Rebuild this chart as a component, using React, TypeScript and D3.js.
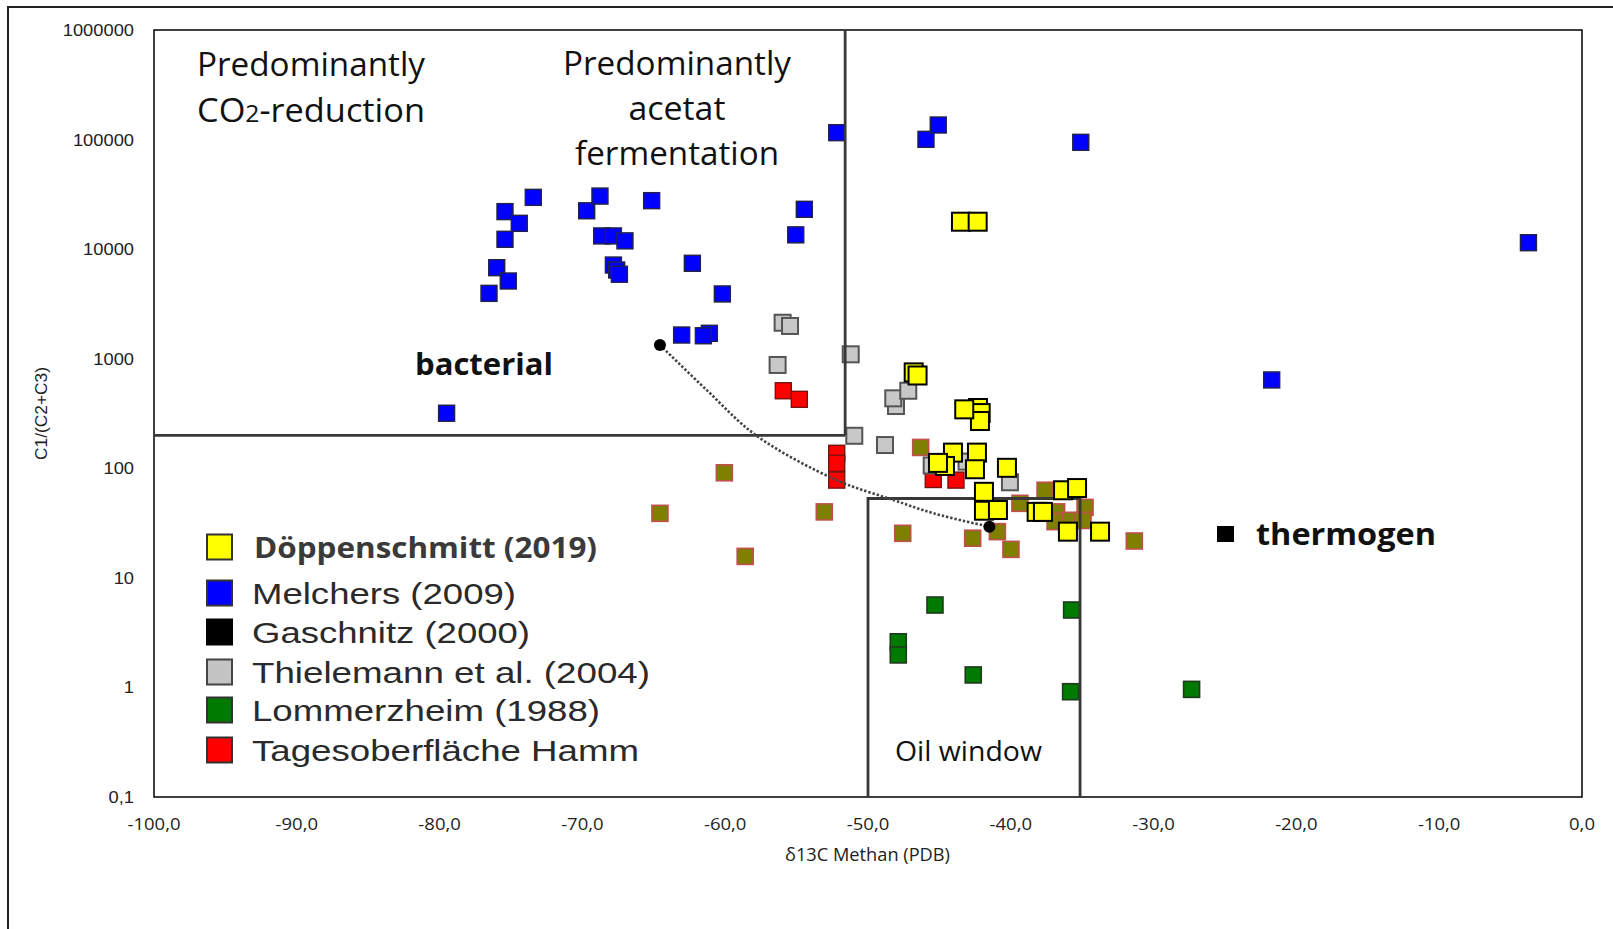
import React from "react";
import { scaleLinear, scaleLog, line, curveCatmullRom } from "d3";

// δ13C methane (x) vs C1/(C2+C3) (y)
const xTicks = [-100, -90, -80, -70, -60, -50, -40, -30, -20, -10, 0];
const xTickLabels = ["-100,0", "-90,0", "-80,0", "-70,0", "-60,0", "-50,0", "-40,0", "-30,0", "-20,0", "-10,0", "0,0"];
const yTicks = [0.1, 1, 10, 100, 1000, 10000, 100000, 1000000];
const yTickLabels = ["0,1", "1", "10", "100", "1000", "10000", "100000", "1000000"];

const doeppenschmitt = [
  [-43.49, 17800], [-42.32, 17800], [-46.8, 750], [-46.53, 703], [-42.3, 355], [-42.11, 319],
  [-42.16, 270], [-43.26, 345], [-44.05, 139], [-42.37, 139], [-44.61, 105], [-45.1, 112],
  [-42.51, 98], [-40.27, 101], [-41.88, 61], [-41.88, 41], [-40.9, 41.6], [-38.19, 40],
  [-37.75, 40], [-36.34, 63], [-35.36, 66], [-36.0, 26.4], [-33.75, 26.4],
];

const melchers = [
  [-76.54, 3950], [-76.0, 6770], [-75.19, 5120], [-75.42, 12300], [-75.42, 22000], [-74.42, 17200],
  [-73.44, 29700], [-69.7, 22400], [-68.77, 30500], [-68.65, 13200], [-67.83, 13200], [-67.02, 11900],
  [-67.83, 7160], [-67.6, 6450], [-67.41, 5900], [-65.15, 27700], [-62.3, 7430], [-60.2, 3900],
  [-63.05, 1645], [-61.11, 1706], [-61.53, 1620], [-54.46, 23100], [-55.06, 13500], [-52.19, 115600],
  [-45.94, 100500], [-45.08, 135800], [-35.1, 94400], [-3.75, 11450], [-21.73, 640], [-79.51, 318],
];

const gaschnitz = [[-64.57, 1334], [-41.5, 29.3]];
const gaschnitzTrend = [
  [-64.57, 1334], [-61.3, 518], [-57.8, 198], [-52.2, 78], [-48.23, 51.4], [-45.4, 38.8], [-41.5, 29.3],
];

const thielemann = [
  [-55.98, 2130], [-55.46, 1990], [-56.33, 877], [-51.21, 1097], [-50.96, 198], [-48.81, 163],
  [-48.04, 370], [-48.23, 435], [-47.18, 510], [-45.54, 106], [-43.1, 115], [-40.06, 74.5],
];

const lommerzheim = [
  [-45.31, 5.65], [-47.88, 2.61], [-47.88, 1.98], [-42.63, 1.3], [-35.74, 5.09], [-35.81, 0.914], [-27.34, 0.96],
];

const tagesoberflaeche = [
  [-55.93, 510], [-54.81, 426], [-52.19, 137], [-52.19, 111], [-52.19, 78], [-45.43, 79], [-43.84, 78],
];

// olive points without legend entry
const unlabeled = [
  [-64.57, 38.8], [-60.06, 91], [-58.6, 15.7], [-53.06, 40], [-46.31, 155], [-47.57, 25.5],
  [-42.67, 23], [-40.94, 26.4], [-39.99, 18.2], [-39.36, 47.9], [-37.6, 63], [-36.79, 40],
  [-36.9, 32.6], [-35.85, 33.5], [-34.8, 44], [-34.94, 33.4], [-31.35, 21.7],
];

// field boundaries
const bacterialLimit = 200;
const splitX = -51.6;
const oilWindow = { x0: -50, x1: -35.15, top: 53 };

const legendItems = [
  { label: "Döppenschmitt (2019)", fill: "#ffff00", stroke: "#333", bold: true },
  { label: "Melchers (2009)", fill: "#0000ff", stroke: "#333" },
  { label: "Gaschnitz (2000)", fill: "#000000", stroke: "#000" },
  { label: "Thielemann et al. (2004)", fill: "#c4c4c4", stroke: "#444" },
  { label: "Lommerzheim (1988)", fill: "#007a00", stroke: "#333" },
  { label: "Tagesoberfläche Hamm", fill: "#ff0000", stroke: "#333" },
];
const legendRowsY = [547, 593, 632, 672, 710, 750];
const legendTextLen = [343, 264, 278, 398, 348, 387];

const W = 1613;
const H = 929;
const plot = { left: 154, right: 1582, top: 30, bottom: 797 };

export default function App() {
  const x = scaleLinear().domain([-100, 0]).range([plot.left, plot.right]);
  const y = scaleLog().domain([0.1, 1000000]).range([plot.bottom, plot.top]);

  const squares = (data, size, fill, stroke, sw, key) =>
    data.map((d, i) => (
      <rect
        key={key + i}
        x={x(d[0]) - size / 2}
        y={y(d[1]) - size / 2}
        width={size}
        height={size}
        fill={fill}
        stroke={stroke}
        strokeWidth={sw}
      />
    ));

  const trend = line()
    .x((d) => x(d[0]))
    .y((d) => y(d[1]))
    .curve(curveCatmullRom.alpha(0.5));

  const boundary = { stroke: "#383838", strokeWidth: 2.8, fill: "none" };
  const sans = "'Open Sans', 'Noto Sans', sans-serif";
  const arial = "'Liberation Sans', Arial, sans-serif";

  return (
    <svg width={W} height={H} style={{ position: "absolute", left: 0, top: 0, background: "#fff" }}>
      <rect x={0} y={0} width={W} height={H} fill="#fff" />
      {/* outer frame */}
      <rect x={8} y={7} width={W + 50} height={H + 50} fill="none" stroke="#222" strokeWidth={2} />

      {/* plot frame */}
      <rect
        x={plot.left}
        y={plot.top}
        width={plot.right - plot.left}
        height={plot.bottom - plot.top}
        fill="#fff"
        stroke="#111"
        strokeWidth={1.6}
      />

      {/* markers behind boundaries */}
      {squares(unlabeled, 16, "#7f7f00", "#c0504d", 1.6, "u")}
      {squares(lommerzheim, 16, "#007a00", "#1f3a1f", 1.6, "l")}
      {squares(tagesoberflaeche, 16, "#ff0000", "#7a1010", 1.4, "t")}
      {squares(thielemann, 16, "#c8c8c8", "#555", 2, "th")}
      {squares(melchers, 16, "#0000ff", "#22224a", 1.4, "m")}

      {/* genetic fields */}
      <line x1={x(-100)} x2={x(splitX)} y1={y(bacterialLimit)} y2={y(bacterialLimit)} {...boundary} />
      <line x1={x(splitX)} x2={x(splitX)} y1={y(bacterialLimit)} y2={y(1000000)} {...boundary} />
      <path
        d={`M${x(oilWindow.x0)},${y(0.1)}V${y(oilWindow.top)}H${x(oilWindow.x1)}V${y(0.1)}`}
        {...boundary}
      />

      {/* Gaschnitz trend */}
      <path d={trend(gaschnitzTrend)} fill="none" stroke="#444" strokeWidth={2.6} strokeDasharray="2.4,1.9" />
      {gaschnitz.map((d, i) => (
        <circle key={"g" + i} cx={x(d[0])} cy={y(d[1])} r={6} fill="#000" />
      ))}

      {squares(doeppenschmitt, 18, "#ffff00", "#000", 2, "d")}

      {/* axes */}
      {xTicks.map((t, i) => (
        <text
          key={"xt" + i}
          transform={`translate(${x(t)},830) scale(1.09,1)`}
          textAnchor="middle"
          fontFamily={sans}
          fontSize={17}
          fill="#222"
        >
          {xTickLabels[i]}
        </text>
      ))}
      {yTicks.map((t, i) => (
        <text
          key={"yt" + i}
          transform={`translate(134,${y(t) + 6}) scale(1.11,1)`}
          textAnchor="end"
          fontFamily={arial}
          fontSize={16.5}
          fill="#222"
        >
          {yTickLabels[i]}
        </text>
      ))}
      <text x={867.5} y={861} textAnchor="middle" fontFamily={sans} fontSize={18} fill="#222"
        textLength={165} lengthAdjust="spacingAndGlyphs">
        δ13C Methan (PDB)
      </text>
      <text
        transform="translate(47,413.5) rotate(-90)"
        textAnchor="middle"
        fontFamily={arial}
        fontSize={16}
        fill="#222"
        textLength={93}
        lengthAdjust="spacingAndGlyphs"
      >
        C1/(C2+C3)
      </text>

      {/* field labels */}
      <g fontFamily={sans} fill="#111">
        <text x={197} y={76} fontSize={32} textLength={228} lengthAdjust="spacingAndGlyphs">
          Predominantly
        </text>
        <text x={197} y={122} fontSize={32} textLength={228} lengthAdjust="spacingAndGlyphs">
          CO<tspan fontSize={23}>2</tspan>-reduction
        </text>
        <text x={677} y={75} fontSize={32} textAnchor="middle" textLength={228} lengthAdjust="spacingAndGlyphs">
          Predominantly
        </text>
        <text x={677} y={120} fontSize={32} textAnchor="middle" textLength={97} lengthAdjust="spacingAndGlyphs">
          acetat
        </text>
        <text x={677} y={165} fontSize={32} textAnchor="middle" textLength={204} lengthAdjust="spacingAndGlyphs">
          fermentation
        </text>
        <text x={415} y={375} fontSize={30} fontWeight={700} textLength={138} lengthAdjust="spacingAndGlyphs">
          bacterial
        </text>
        <text x={895} y={761} fontSize={28} textLength={147} lengthAdjust="spacingAndGlyphs">
          Oil window
        </text>
        <rect x={1217} y={526} width={17} height={16} fill="#000" />
        <text x={1256} y={545} fontSize={31} fontWeight={700} textLength={180} lengthAdjust="spacingAndGlyphs">
          thermogen
        </text>
      </g>

      {/* legend */}
      {legendItems.map((it, i) => (
        <g key={"lg" + i}>
          <rect
            x={207}
            y={legendRowsY[i] - 12.5}
            width={25}
            height={25}
            fill={it.fill}
            stroke={it.stroke}
            strokeWidth={2}
          />
          <text
            x={it.bold ? 254 : 252}
            y={legendRowsY[i] + 11}
            fontFamily={it.bold ? sans : arial}
            fontWeight={it.bold ? 700 : 400}
            fontSize={it.bold ? 29 : 30}
            fill={it.bold ? "#3a3a3a" : "#2a2a2a"}
            textLength={legendTextLen[i]}
            lengthAdjust="spacingAndGlyphs"
          >
            {it.label}
          </text>
        </g>
      ))}
    </svg>
  );
}
